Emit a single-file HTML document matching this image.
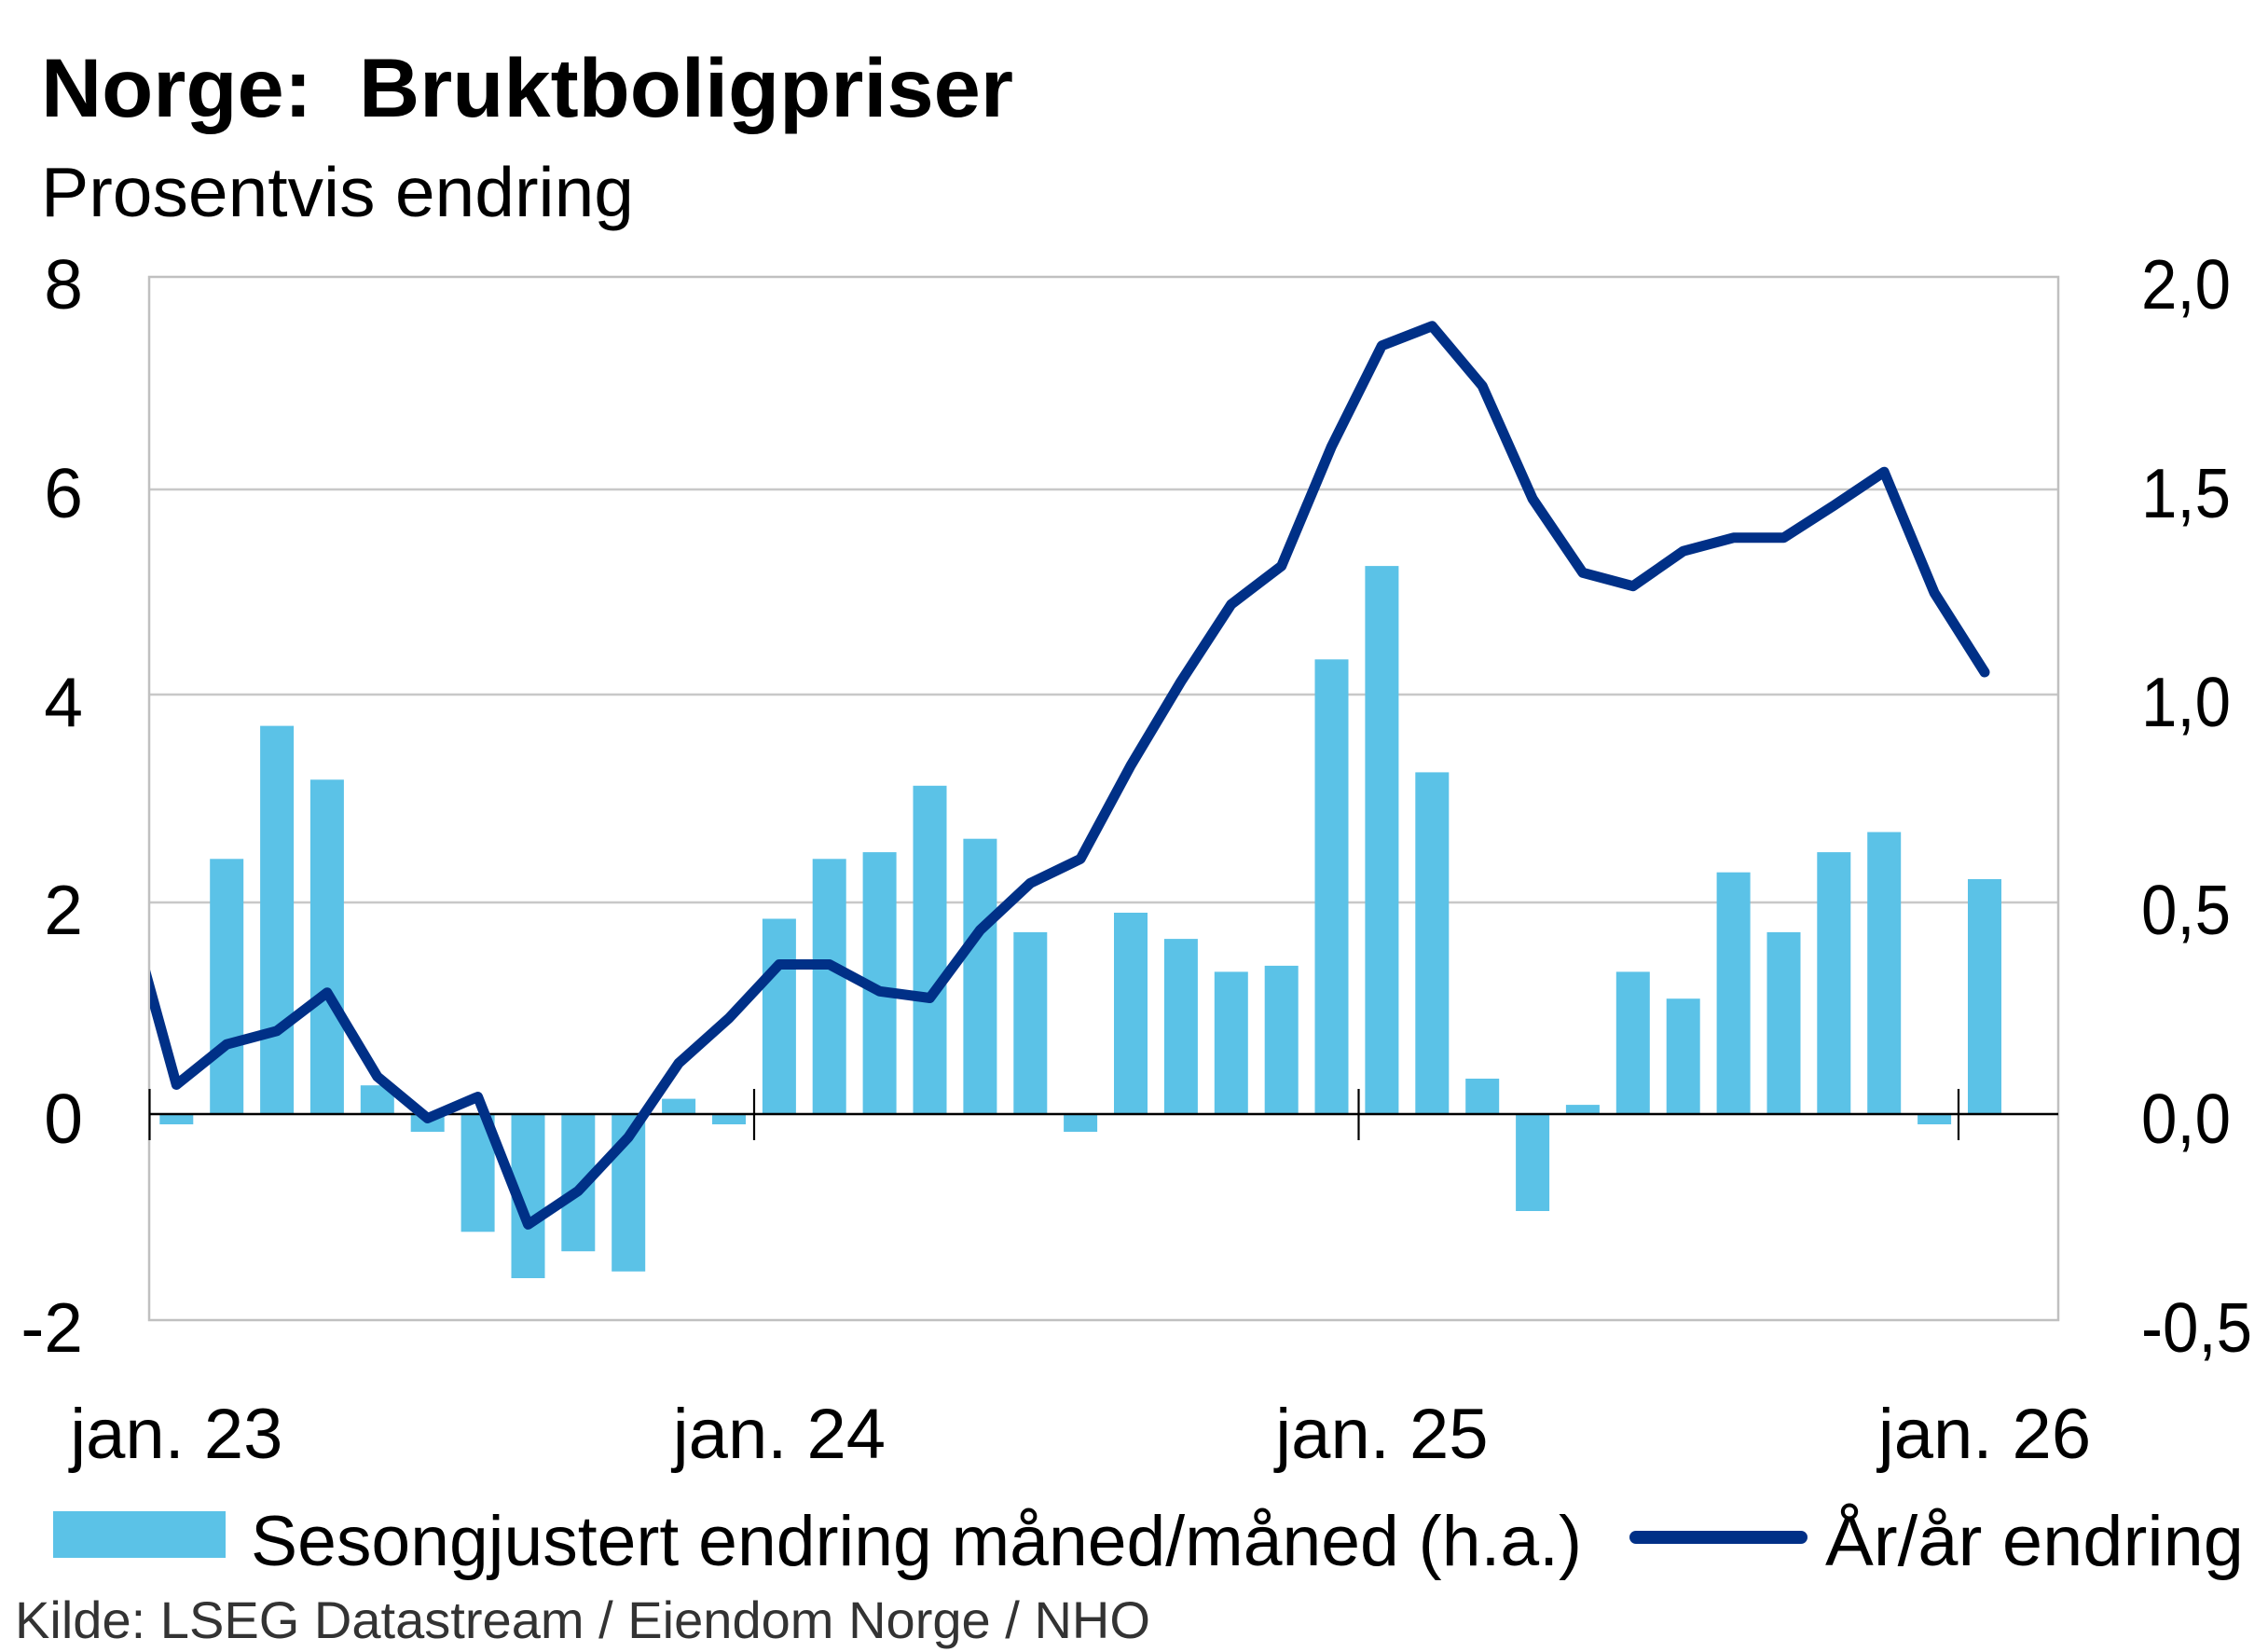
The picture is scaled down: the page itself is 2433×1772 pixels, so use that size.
<!DOCTYPE html>
<html>
<head>
<meta charset="utf-8">
<style>
html,body{margin:0;padding:0;background:#fff;}
svg{display:block;}
text{font-family:"Liberation Sans",sans-serif;white-space:pre;}
</style>
</head>
<body>
<svg width="2433" height="1772" viewBox="0 0 2433 1772" xmlns="http://www.w3.org/2000/svg" xml:space="preserve">
<defs>
<clipPath id="plot"><rect x="161" y="297" width="2047" height="1119"/></clipPath>
</defs>
<rect x="0" y="0" width="2433" height="1772" fill="#fff"/>

<!-- Title -->
<text x="44" y="125" font-size="89" font-weight="bold" fill="#000" textLength="1043" lengthAdjust="spacingAndGlyphs">Norge:  Bruktboligpriser</text>
<text x="44" y="232" font-size="75" fill="#000" textLength="636" lengthAdjust="spacingAndGlyphs">Prosentvis endring</text>

<!-- Gridlines -->
<g stroke="#C8C8C8" stroke-width="2.5" fill="none">
<line x1="160" y1="525" x2="2208" y2="525"/>
<line x1="160" y1="745" x2="2208" y2="745"/>
<line x1="160" y1="968" x2="2208" y2="968"/>
</g>

<!-- Bars -->
<g fill="#5BC2E7">
<rect x="171.3" y="1195" width="36" height="11"/>
<rect x="225.2" y="921.3" width="36" height="273.7"/>
<rect x="279.1" y="778.6" width="36" height="416.4"/>
<rect x="332.9" y="836.3" width="36" height="358.7"/>
<rect x="386.8" y="1164.2" width="36" height="30.8"/>
<rect x="440.7" y="1195" width="36" height="19"/>
<rect x="494.6" y="1195" width="36" height="126.3"/>
<rect x="548.5" y="1195" width="36" height="176"/>
<rect x="602.3" y="1195" width="36" height="147.2"/>
<rect x="656.2" y="1195" width="36" height="168.8"/>
<rect x="710.1" y="1178.6" width="36" height="16.4"/>
<rect x="764.0" y="1195" width="36" height="11"/>
<rect x="817.9" y="985.5" width="36" height="209.5"/>
<rect x="871.7" y="921.3" width="36" height="273.7"/>
<rect x="925.6" y="914.1" width="36" height="280.9"/>
<rect x="979.5" y="842.8" width="36" height="352.2"/>
<rect x="1033.4" y="899.7" width="36" height="295.3"/>
<rect x="1087.3" y="999.9" width="36" height="195.1"/>
<rect x="1141.1" y="1195" width="36" height="19"/>
<rect x="1195.0" y="979" width="36" height="216"/>
<rect x="1248.9" y="1007.1" width="36" height="187.9"/>
<rect x="1302.8" y="1042.4" width="36" height="152.6"/>
<rect x="1356.7" y="1035.9" width="36" height="159.1"/>
<rect x="1410.5" y="707.3" width="36" height="487.7"/>
<rect x="1464.4" y="607.1" width="36" height="587.9"/>
<rect x="1518.3" y="828.4" width="36" height="366.6"/>
<rect x="1572.2" y="1157" width="36" height="38"/>
<rect x="1626.1" y="1195" width="36" height="104"/>
<rect x="1679.9" y="1185.1" width="36" height="9.9"/>
<rect x="1733.8" y="1042.4" width="36" height="152.6"/>
<rect x="1787.7" y="1071.2" width="36" height="123.8"/>
<rect x="1841.6" y="935.7" width="36" height="259.3"/>
<rect x="1895.5" y="999.9" width="36" height="195.1"/>
<rect x="1949.3" y="914.1" width="36" height="280.9"/>
<rect x="2003.2" y="892.5" width="36" height="302.5"/>
<rect x="2057.1" y="1195" width="36" height="11"/>
<rect x="2111.0" y="943" width="36" height="252"/>
</g>

<!-- Plot border -->
<rect x="160" y="297" width="2048" height="1119" fill="none" stroke="#C0C0C0" stroke-width="2.5"/>

<!-- Zero axis and ticks -->
<line x1="160" y1="1195" x2="2208" y2="1195" stroke="#000" stroke-width="2.5"/>
<g stroke="#000" stroke-width="2.2">
<line x1="160.5" y1="1168" x2="160.5" y2="1223"/>
<line x1="809" y1="1168" x2="809" y2="1223"/>
<line x1="1457.5" y1="1168" x2="1457.5" y2="1223"/>
<line x1="2101" y1="1168" x2="2101" y2="1223"/>
</g>

<!-- Line series -->
<g clip-path="url(#plot)">
<polyline fill="none" stroke="#003087" stroke-width="11" stroke-linejoin="round" stroke-linecap="round"
points="135.4,968 189.3,1163.5 243.2,1120.2 297.1,1105.8 350.9,1064.7 404.8,1154.8 458.7,1199.5 512.6,1176.5 566.5,1313.4 620.3,1277.4 674.2,1219.7 728.1,1140.4 782.0,1092.1 835.9,1034.5 889.7,1034.5 943.6,1063.3 997.5,1070.5 1051.4,997.7 1105.3,947.3 1159.1,921.3 1213.0,821.2 1266.9,731 1320.8,648.2 1374.7,607.1 1428.5,478.8 1482.4,370.7 1536.3,349.8 1590.2,414.0 1644.1,535.0 1697.9,614.3 1751.8,628.7 1805.7,591.2 1859.6,576.8 1913.5,576.8 1967.3,542.2 2021.2,506.2 2075.1,635.9 2129.0,721"/>
</g>

<!-- Left axis labels -->
<g font-size="75" fill="#000" text-anchor="end">
<text x="89" y="331">8</text>
<text x="89" y="555">6</text>
<text x="89" y="779">4</text>
<text x="89" y="1002">2</text>
<text x="89" y="1226">0</text>
<text x="89" y="1450">-2</text>
</g>

<!-- Right axis labels -->
<g font-size="75" fill="#000" text-anchor="start">
<text x="2297" y="331" textLength="96" lengthAdjust="spacingAndGlyphs">2,0</text>
<text x="2297" y="555" textLength="96" lengthAdjust="spacingAndGlyphs">1,5</text>
<text x="2297" y="779" textLength="96" lengthAdjust="spacingAndGlyphs">1,0</text>
<text x="2297" y="1002" textLength="96" lengthAdjust="spacingAndGlyphs">0,5</text>
<text x="2297" y="1226" textLength="96" lengthAdjust="spacingAndGlyphs">0,0</text>
<text x="2297" y="1450" textLength="119" lengthAdjust="spacingAndGlyphs">-0,5</text>
</g>

<!-- X axis labels -->
<g font-size="76" fill="#000" text-anchor="middle">
<text x="189.3" y="1564">jan. 23</text>
<text x="835.9" y="1564">jan. 24</text>
<text x="1482.4" y="1564">jan. 25</text>
<text x="2129" y="1564">jan. 26</text>
</g>

<!-- Legend -->
<rect x="57" y="1621" width="185" height="50" fill="#5BC2E7"/>
<text x="269" y="1679" font-size="76" fill="#000" textLength="1428" lengthAdjust="spacingAndGlyphs">Sesongjustert endring måned/måned (h.a.)</text>
<line x1="1755" y1="1649" x2="1932" y2="1649" stroke="#003087" stroke-width="14" stroke-linecap="round"/>
<text x="1958" y="1679" font-size="76" fill="#000" textLength="449" lengthAdjust="spacingAndGlyphs">År/år endring</text>

<!-- Source -->
<text x="16" y="1757" font-size="56" fill="#333333" textLength="1218" lengthAdjust="spacingAndGlyphs">Kilde: LSEG Datastream / Eiendom Norge / NHO</text>
</svg>
</body>
</html>
